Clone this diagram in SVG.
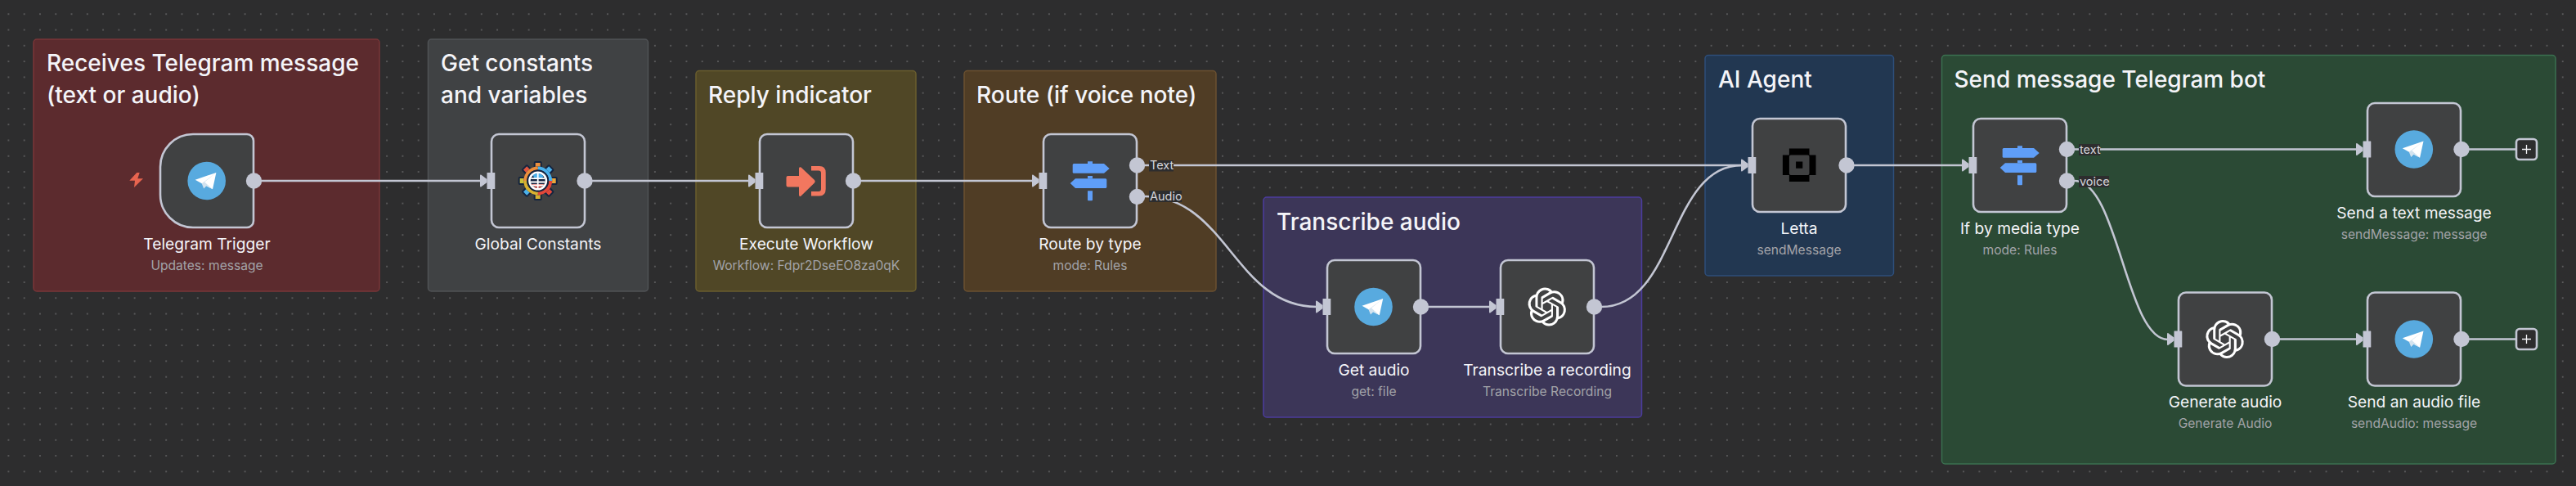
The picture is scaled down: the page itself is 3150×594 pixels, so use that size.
<svg xmlns="http://www.w3.org/2000/svg" xmlns:xlink="http://www.w3.org/1999/xlink" width="3150" height="594" viewBox="0 0 3150 594">
<style>
text{font-family:Inter,"Liberation Sans",sans-serif}
.t{font-size:28px;font-weight:500;fill:#f4f4f8}
.n{font-size:19.2px;font-weight:400;fill:#f4f4f8;text-anchor:middle}
.s{font-size:15.6px;font-weight:400;fill:#a2a3a8;text-anchor:middle}
.pl{font-size:14.5px;fill:#d6d6dc}
.pb{fill:#2d2d2e}
.nb{fill:#404142;stroke:#c3c6d3;stroke-width:2.6}
.e{fill:none;stroke:#c3c6d3;stroke-width:2.6}
.p{fill:#c3c6d3}
.g{stroke-width:1.5}
</style>
<defs>
<pattern id="dots" width="19.28" height="19.28" patternUnits="userSpaceOnUse" x="0.76" y="7.6"><circle cx="9.64" cy="9.64" r="0.9" fill="#6a6a6c"/></pattern>
<g id="tg"><circle r="23.3" fill="#58aadf"/><path d="M11.7-10-14-1.3-6 3.3 7.3 10.3Z" fill="#fff"/><path d="M-6 3.3-3.500 9.500 0 6 7.300 10.300-2.500 1.500 11.700-10Z" fill="#d3e3ef"/></g>
<g id="sw" fill="#5f9ef8"><path d="M-21.300-19.500a1.500 1.500 0 0 1 1.500-1.500H17L23.700-15 17-9.300H-19.800a1.500 1.500 0 0 1-1.500-1.500Z"/><path d="M20.300-1.200a1.500 1.500 0 0 0-1.500-1.500H-18L-24.300 3-18 9H18.800a1.500 1.500 0 0 0 1.500-1.500Z"/><path d="M-3-23.700H3V-21H-3ZM-3-6H3V-2.700H-3ZM-3 12.300H3V23.300a1 1 0 0 1-1 1H-2a1 1 0 0 1-1-1Z"/></g>
<path id="oa" fill="#fff" d="M22.2819 9.8211a5.9847 5.9847 0 0 0-.5157-4.9108 6.0462 6.0462 0 0 0-6.5098-2.9A6.0651 6.0651 0 0 0 4.9807 4.1818a5.9847 5.9847 0 0 0-3.9977 2.9 6.0462 6.0462 0 0 0 .7427 7.0966 5.98 5.98 0 0 0 .511 4.9107 6.051 6.051 0 0 0 6.5146 2.9001A5.9847 5.9847 0 0 0 13.2599 24a6.0557 6.0557 0 0 0 5.7718-4.2058 5.9894 5.9894 0 0 0 3.9977-2.9001 6.0557 6.0557 0 0 0-.7475-7.0729zm-9.022 12.6081a4.4755 4.4755 0 0 1-2.8764-1.0408l.1419-.0804 4.7783-2.7582a.7948.7948 0 0 0 .3927-.6813v-6.7369l2.02 1.1686a.071.071 0 0 1 .038.052v5.5826a4.504 4.504 0 0 1-4.4945 4.4944zm-9.6607-4.1254a4.4708 4.4708 0 0 1-.5346-3.0137l.142.0852 4.783 2.7582a.7712.7712 0 0 0 .7806 0l5.8428-3.3685v2.3324a.0804.0804 0 0 1-.0332.0615L9.74 19.9502a4.4992 4.4992 0 0 1-6.1408-1.6464zM2.3408 7.8956a4.485 4.485 0 0 1 2.3655-1.9728V11.6a.7664.7664 0 0 0 .3879.6765l5.8144 3.3543-2.0201 1.1685a.0757.0757 0 0 1-.071 0l-4.8303-2.7865A4.504 4.504 0 0 1 2.3408 7.872zm16.5963 3.8558L13.1038 8.364 15.1192 7.2a.0757.0757 0 0 1 .071 0l4.8303 2.7913a4.4944 4.4944 0 0 1-.6765 8.1042v-5.6772a.79.79 0 0 0-.407-.667zm2.0107-3.0231l-.142-.0852-4.7735-2.7818a.7759.7759 0 0 0-.7854 0L9.409 9.2297V6.8974a.0662.0662 0 0 1 .0284-.0615l4.8303-2.7866a4.4992 4.4992 0 0 1 6.6802 4.66zM8.3065 12.863l-2.02-1.1638a.0804.0804 0 0 1-.038-.0567V6.0742a4.4992 4.4992 0 0 1 7.3757-3.4537l-.142.0805L8.704 5.459a.7948.7948 0 0 0-.3927.6813zm1.0976-2.3654l2.602-1.4998 2.6069 1.4998v2.9994l-2.5974 1.4997-2.6067-1.4997Z"/>
<g id="in"><path class="p" d="M-14-6.200Q-14-8-12.500-7.200L-5.500-2V2L-12.500 7.200Q-14 8-14 6.200Z"/><rect class="p" x="-5.500" y="-10" width="9.800" height="20" rx="0.500"/></g>
<circle id="out" class="p" r="9.700"/>
</defs>

<rect width="3150" height="594" fill="#2d2d2e"/>
<rect width="3150" height="594" fill="url(#dots)"/>

<g id="groups">
<g id="group-receive"><rect class="g" x="41" y="48" width="423" height="308" rx="4" fill="#5c2b2e" stroke="#793638"/><text class="t" x="57" y="87">Receives Telegram message</text><text class="t" x="57" y="126">(text or audio)</text></g>
<g id="group-constants"><rect class="g" x="523.500" y="48" width="269" height="308" rx="4" fill="#404244" stroke="#505356"/><text class="t" x="539" y="87">Get constants</text><text class="t" x="539" y="126">and variables</text></g>
<g id="group-reply"><rect class="g" x="851" y="86.500" width="269" height="269.500" rx="4" fill="#504726" stroke="#6a5e2e"/><text class="t" x="866" y="126">Reply indicator</text></g>
<g id="group-route"><rect class="g" x="1179" y="86.500" width="308" height="269.500" rx="4" fill="#503d25" stroke="#6b5030"/><text class="t" x="1194" y="126">Route (if voice note)</text></g>
<g id="group-transcribe"><rect class="g" x="1545" y="241" width="462.500" height="269" rx="4" fill="#3c3658" stroke="#4c3c9e"/><text class="t" x="1561" y="281">Transcribe audio</text></g>
<g id="group-agent"><rect class="g" x="2085" y="67.500" width="230.500" height="269.500" rx="4" fill="#223751" stroke="#2e4e7a"/><text class="t" x="2101" y="107">AI Agent</text></g>
<g id="group-send"><rect class="g" x="2374.500" y="67.500" width="750.500" height="499.500" rx="4" fill="#2b4a35" stroke="#3b7050"/><text class="t" x="2389.500" y="107">Send message Telegram bot</text></g>
</g>

<g id="connectors">
<path class="e" d="M320 221H588"/>
<path class="e" d="M724 221H916"/>
<path class="e" d="M1052 221H1262"/>
<path class="e" d="M1400 202H2130"/>
<path class="e" d="M1400 240C1500 240 1510 375 1610 375"/>
<path class="e" d="M1747 375H1822"/>
<path class="e" d="M1958 375C2050 375 2040 202 2130 202"/>
<path class="e" d="M2267 202H2400"/>
<path class="e" d="M2537 182.500H2882"/>
<path class="e" d="M2537 221C2590 221 2600 415 2651 415"/>
<path class="e" d="M2788 414.500H2882"/>
<path class="e" d="M3019 182.500H3077"/>
<path class="e" d="M3019 414.500H3077"/>
<g id="labels">
<rect class="pb" x="1405" y="196" width="30" height="13.500"/><text class="pl" x="1406" y="207">Text</text>
<rect class="pb" x="1405" y="233" width="40" height="14"/><text class="pl" x="1406" y="245">Audio</text>
<rect class="pb" x="2542" y="176" width="26" height="14"/><text class="pl" x="2543" y="187.500">text</text>
<rect class="pb" x="2542" y="215" width="37" height="14"/><text class="pl" x="2543" y="226.500">voice</text>
</g>
</g>

<g id="telegram-trigger">
<path class="nb" d="M196 204a40 40 0 0 1 40-40H302a8 8 0 0 1 8 8V270a8 8 0 0 1-8 8H236a40 40 0 0 1-40-40Z"/>
<use href="#tg" x="252.700" y="221"/>
<path fill="#e8644f" d="M167.300 211 158.300 220.700H165L164 229 175 218.300H168.300L170.700 211Z"/>
<use href="#out" x="310.500" y="221"/>
<text class="n" x="253" y="305">Telegram Trigger</text><text class="s" x="253" y="330">Updates: message</text>
</g>

<g id="global-constants">
<rect class="nb" x="601" y="164" width="114" height="114" rx="9"/>
<use href="#in" x="601" y="221"/>
<g transform="translate(657.700 221)">
<g stroke="#14243f" stroke-width="2"><rect x="-4" y="-23" width="8" height="10" rx="1" fill="#ec8f3c"/><rect x="-4" y="-23" width="8" height="10" rx="1" fill="#4ab0ea" transform="rotate(45)"/><rect x="-4" y="-23" width="8" height="10" rx="1" fill="#eba63a" transform="rotate(90)"/><rect x="-4" y="-23" width="8" height="10" rx="1" fill="#e2483a" transform="rotate(135)"/><rect x="-4" y="-23" width="8" height="10" rx="1" fill="#d8b030" transform="rotate(180)"/><rect x="-4" y="-23" width="8" height="10" rx="1" fill="#4ab0ea" transform="rotate(225)"/><rect x="-4" y="-23" width="8" height="10" rx="1" fill="#c9bf3a" transform="rotate(270)"/><rect x="-4" y="-23" width="8" height="10" rx="1" fill="#e2553f" transform="rotate(315)"/></g>
<circle r="16.500" fill="none" stroke="#14243f" stroke-width="2"/>
<path d="M0-15.500A15.500 15.500 0 0 1 15.500 0" fill="none" stroke="#4ab0ea" stroke-width="4"/><path d="M15.500 0A15.500 15.500 0 0 1 0 15.500" fill="none" stroke="#e2483a" stroke-width="4"/><path d="M0 15.500A15.500 15.500 0 0 1-15.500 0" fill="none" stroke="#d8b030" stroke-width="4"/><path d="M-15.500 0A15.500 15.500 0 0 1 0-15.500" fill="none" stroke="#ec8f3c" stroke-width="4"/>
<circle r="13.500" fill="#14243f"/><circle r="11.500" fill="#fff"/><circle r="9" fill="#14243f"/>
<path d="M-6-7A9 9 0 0 1 7-5.500L4-2H-4Z" fill="#4ab0ea"/><path d="M-8 4H8L3 8.500H-3Z" fill="#e2483a" opacity=".9"/>
<path d="M-8.500-2.800H8.500M-9 1.500H9M-7 5.500H7M0-9V9" stroke="#fff" stroke-width="1.800" fill="none"/>
</g>
<use href="#out" x="715" y="221"/>
<text class="n" x="658" y="305">Global Constants</text>
</g>

<g id="execute-workflow">
<rect class="nb" x="929" y="164" width="114" height="114" rx="9"/>
<use href="#in" x="929" y="221"/>
<path fill="#f2775f" d="M963.500 215H977V206Q977 203.500 979.500 204.500L996 220Q997.500 221.700 996 223.500L979.500 239.500Q977 241 977 238V228.500H963.500Q961.500 228.500 961.500 226.500V217Q961.500 215 963.500 215Z"/>
<path fill="#f2775f" d="M992 203H1002Q1009.700 203 1009.700 211V231Q1009.700 239.500 1002 239.500H992V234H1001Q1004 234 1004 231V211.500Q1004 208.500 1001 208.500H992Z"/>
<use href="#out" x="1043.500" y="221"/>
<text class="n" x="986" y="305">Execute Workflow</text><text class="s" x="986" y="330">Workflow: Fdpr2DseEO8za0qK</text>
</g>

<g id="route-by-type">
<rect class="nb" x="1276" y="164" width="114" height="114" rx="9"/>
<use href="#in" x="1276" y="221"/>
<use href="#sw" x="1333" y="221"/>
<use href="#out" x="1390.500" y="202"/><use href="#out" x="1390.500" y="240.500"/>
<text class="n" x="1333" y="305">Route by type</text><text class="s" x="1333" y="330">mode: Rules</text>
</g>

<g id="get-audio">
<rect class="nb" x="1623" y="318" width="114" height="114" rx="9"/>
<use href="#in" x="1623" y="375"/>
<use href="#tg" x="1679.500" y="375"/>
<use href="#out" x="1737.500" y="375"/>
<text class="n" x="1680" y="459">Get audio</text><text class="s" x="1680" y="484">get: file</text>
</g>

<g id="transcribe-recording">
<rect class="nb" x="1835" y="318" width="114" height="114" rx="9"/>
<use href="#in" x="1835" y="375"/>
<use href="#oa" transform="translate(1868.200 351.500) scale(1.96)"/>
<use href="#out" x="1949.500" y="375"/>
<text class="n" x="1892" y="459">Transcribe a recording</text><text class="s" x="1892" y="484">Transcribe Recording</text>
</g>

<g id="letta">
<rect class="nb" x="2143" y="145" width="114" height="114" rx="9"/>
<use href="#in" x="2143" y="202"/>
<path fill="#000" fill-rule="evenodd" d="M2187.900 181.400H2212.500V189.400H2220.500V214H2212.500V222H2187.900V214H2179.900V189.400H2187.900ZM2189.900 189.400Q2187.900 189.400 2187.900 191.400V212Q2187.900 214 2189.900 214H2210.500Q2212.500 214 2212.500 212V191.400Q2212.500 189.400 2210.500 189.400ZM2196.100 197.600H2204.300V205.800H2196.100Z"/>
<use href="#out" x="2258" y="202"/>
<text class="n" x="2200" y="286">Letta</text><text class="s" x="2200" y="311">sendMessage</text>
</g>

<g id="if-media-type">
<rect class="nb" x="2413" y="145" width="114" height="114" rx="9"/>
<use href="#in" x="2413" y="202"/>
<use href="#sw" x="2470" y="202"/>
<use href="#out" x="2527.500" y="182.500"/><use href="#out" x="2527.500" y="221"/>
<text class="n" x="2470" y="286">If by media type</text><text class="s" x="2470" y="311">mode: Rules</text>
</g>

<g id="send-text">
<rect class="nb" x="2895" y="126" width="114" height="114" rx="9"/>
<use href="#in" x="2895" y="182.500"/>
<use href="#tg" x="2951.800" y="182.500"/>
<use href="#out" x="3010" y="182.500"/>
<text class="n" x="2952" y="267">Send a text message</text><text class="s" x="2952" y="292">sendMessage: message</text>
</g>
<g id="plus-text"><rect x="3077" y="170" width="25" height="25" rx="4" fill="#2d2d2e" stroke="#c3c6d3" stroke-width="2.600"/><path d="M3089.500 177V188M3084 182.500H3095" stroke="#f4f4f8" stroke-width="1.300"/></g>

<g id="generate-audio">
<rect class="nb" x="2664" y="357.500" width="114" height="114" rx="9"/>
<use href="#in" x="2664" y="414.500"/>
<use href="#oa" transform="translate(2697 391) scale(1.96)"/>
<use href="#out" x="2778.500" y="414.500"/>
<text class="n" x="2721" y="498">Generate audio</text><text class="s" x="2721" y="523">Generate Audio</text>
</g>

<g id="send-audio">
<rect class="nb" x="2895" y="357.500" width="114" height="114" rx="9"/>
<use href="#in" x="2895" y="414.500"/>
<use href="#tg" x="2951.800" y="414.500"/>
<use href="#out" x="3010" y="414.500"/>
<text class="n" x="2952" y="498">Send an audio file</text><text class="s" x="2952" y="523">sendAudio: message</text>
</g>
<g id="plus-audio"><rect x="3077" y="402" width="25" height="25" rx="4" fill="#2d2d2e" stroke="#c3c6d3" stroke-width="2.600"/><path d="M3089.500 409V420M3084 414.500H3095" stroke="#f4f4f8" stroke-width="1.300"/></g>
</svg>
